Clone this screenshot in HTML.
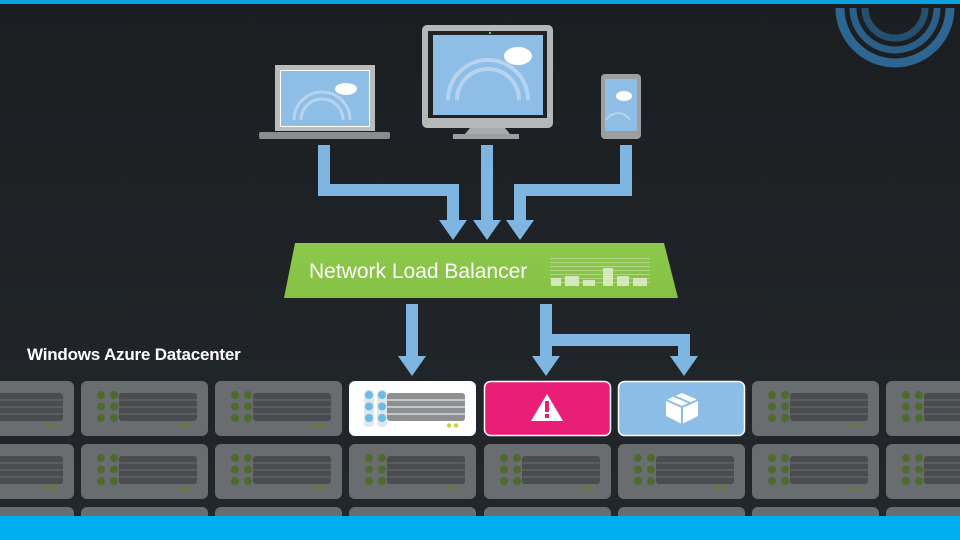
<!DOCTYPE html>
<html><head><meta charset="utf-8"><style>
html,body{margin:0;padding:0;width:960px;height:540px;overflow:hidden;background:#202428}
svg{display:block}
</style></head><body>
<svg width="960" height="540" viewBox="0 0 960 540" xmlns="http://www.w3.org/2000/svg">
<defs>
<linearGradient id="bg" x1="0" y1="0" x2="0" y2="1"><stop offset="0" stop-color="#1b1e21"/><stop offset="1" stop-color="#23282c"/></linearGradient>
<linearGradient id="gr" x1="0" y1="0" x2="0" y2="1"><stop offset="0" stop-color="#8cc84b"/><stop offset="1" stop-color="#86c145"/></linearGradient>
<symbol id="srv" overflow="visible">
<rect x="0" y="0" width="127" height="55" rx="6" fill="#6a6d70"/>
<g fill="#4f6a2e"><circle cx="20" cy="14" r="4"/><circle cx="33" cy="14" r="4"/><circle cx="20" cy="25.5" r="4"/><circle cx="33" cy="25.5" r="4"/><circle cx="20" cy="37" r="4"/><circle cx="33" cy="37" r="4"/></g>
<rect x="38" y="12" width="78" height="28" rx="3" fill="#4a4c50"/>
<g stroke="#6a6d70" stroke-width="1"><line x1="38" y1="19" x2="116" y2="19"/><line x1="38" y1="26" x2="116" y2="26"/><line x1="38" y1="33" x2="116" y2="33"/></g>
<circle cx="100" cy="44.5" r="2.2" fill="#6a7a2e"/><circle cx="107" cy="44.5" r="2.2" fill="#6a7a2e"/>
</symbol>
<symbol id="arr" overflow="visible"><path d="M-14,-20 L14,-20 L0,0 Z" fill="#7fb6e1"/></symbol>
</defs>
<rect width="960" height="540" fill="url(#bg)"/>
<rect width="960" height="4" fill="#0aa3e0"/>
<g fill="none">
<path d="M840,8 A55,55 0 0 0 950,8" stroke-width="9" stroke="#2d6690"/>
<path d="M853,8 A42,42 0 0 0 937,8" stroke-width="7" stroke="#2b5f87"/>
<path d="M865,8 A30,30 0 0 0 925,8" stroke-width="7" stroke="#26506f"/>
</g>
<g>
<use href="#srv" x="-53" y="381"/><use href="#srv" x="81" y="381"/><use href="#srv" x="215" y="381"/><use href="#srv" x="752" y="381"/><use href="#srv" x="886" y="381"/>
<use href="#srv" x="-53" y="444"/><use href="#srv" x="81" y="444"/><use href="#srv" x="215" y="444"/><use href="#srv" x="349" y="444"/><use href="#srv" x="484" y="444"/><use href="#srv" x="618" y="444"/><use href="#srv" x="752" y="444"/><use href="#srv" x="886" y="444"/>
<use href="#srv" x="-53" y="507"/><use href="#srv" x="81" y="507"/><use href="#srv" x="215" y="507"/><use href="#srv" x="349" y="507"/><use href="#srv" x="484" y="507"/><use href="#srv" x="618" y="507"/><use href="#srv" x="752" y="507"/><use href="#srv" x="886" y="507"/>
</g>
<g transform="translate(349,381)">
<rect width="127" height="55" rx="6" fill="#ffffff"/>
<rect x="15" y="9" width="10" height="37" rx="4" fill="#dfe6ec"/><rect x="28" y="9" width="10" height="37" rx="4" fill="#dfe6ec"/>
<g fill="#6cbbe8"><circle cx="20" cy="14" r="4"/><circle cx="33" cy="14" r="4"/><circle cx="20" cy="25.5" r="4"/><circle cx="33" cy="25.5" r="4"/><circle cx="20" cy="37" r="4"/><circle cx="33" cy="37" r="4"/></g>
<rect x="38" y="12" width="78" height="28" rx="3" fill="#8e8f92"/>
<g stroke="#fff"><line x1="38" y1="19" x2="116" y2="19"/><line x1="38" y1="26" x2="116" y2="26"/><line x1="38" y1="33" x2="116" y2="33"/></g>
<circle cx="100" cy="44.5" r="2.2" fill="#c8d43a"/><circle cx="107" cy="44.5" r="2.2" fill="#c8d43a"/>
</g>
<g transform="translate(484,381)">
<rect x="0.5" y="0.5" width="126" height="54" rx="6" fill="#e91e76" stroke="#fff" stroke-width="1.5"/>
<path d="M63,13 L79,40 L47,40 Z" fill="#fff"/>
<rect x="61" y="20" width="4" height="11" fill="#e91e76"/><rect x="61" y="33" width="4" height="4" fill="#e91e76"/>
</g>
<g transform="translate(618,381)">
<rect x="0.5" y="0.5" width="126" height="54" rx="6" fill="#8bbde6" stroke="#fff" stroke-width="1.5"/>
<path d="M64,12 L80,19 L80,35 L64,43 L48,35 L48,19 Z" fill="#fff"/>
<path d="M48,19 L64,26 L80,19 M64,26 L64,43" stroke="#8bbde6" stroke-width="2" fill="none"/>
<path d="M56,15 L72,22" stroke="#8bbde6" stroke-width="2"/>
</g>
<g fill="none" stroke="#7fb6e1" stroke-width="12">
<path d="M324,145 V190 H453 V222"/>
<path d="M487,145 V222"/>
<path d="M626,145 V190 H520 V222"/>
<path d="M412,304 V358"/>
<path d="M546,304 V358"/>
<path d="M546,340 H684 V358"/>
</g>
<use href="#arr" x="453" y="240"/><use href="#arr" x="487" y="240"/><use href="#arr" x="520" y="240"/>
<use href="#arr" x="412" y="376"/><use href="#arr" x="546" y="376"/><use href="#arr" x="684" y="376"/>
<path d="M295,243 L664,243 L678,298 L284,298 Z" fill="url(#gr)"/>
<text x="309" y="278" font-family="Liberation Sans, sans-serif" font-size="21" fill="#fff" letter-spacing="0">Network Load Balancer</text>
<g fill="#c9e6a6" opacity="0.6">
<rect x="550" y="258" width="100" height="1"/><rect x="550" y="262" width="100" height="1"/><rect x="550" y="266" width="100" height="1"/><rect x="550" y="270" width="100" height="1"/><rect x="550" y="274" width="100" height="1"/><rect x="550" y="278" width="100" height="1"/><rect x="550" y="282" width="100" height="1"/>
</g>
<g fill="#dff0cb" opacity="0.85"><rect x="551" y="278" width="10" height="8"/><rect x="565" y="276" width="14" height="10"/><rect x="583" y="280" width="12" height="6"/><rect x="603" y="268" width="10" height="18"/><rect x="617" y="276" width="12" height="10"/><rect x="633" y="278" width="14" height="8"/></g>
<text x="27" y="360" font-family="Liberation Sans, sans-serif" font-weight="bold" font-size="17" fill="#fff" letter-spacing="-0.2">Windows Azure Datacenter</text>
<g>
<rect x="275" y="65" width="100" height="66" fill="#b9bbbd"/>
<rect x="280" y="70" width="90" height="57" fill="#fff"/>
<rect x="281" y="71" width="88" height="55" fill="#8ebde6"/>
<rect x="259" y="132" width="131" height="7" rx="2" fill="#8a8c8e"/>
<g fill="none" stroke="#b6d4ef" stroke-width="3"><path d="M294,120 A28,28 0 0 1 350,120"/><path d="M301,120 A21,21 0 0 1 343,120"/></g>
<ellipse cx="346" cy="89" rx="11" ry="6" fill="#fff"/>
</g>
<g>
<rect x="422" y="25" width="131" height="103" rx="5" fill="#b5b7b9"/>
<rect x="428" y="31" width="119" height="87" fill="#222"/>
<rect x="433" y="35" width="110" height="80" fill="#8ebde6"/>
<circle cx="490" cy="33" r="1.2" fill="#6c6"/>
<path d="M470,128 L505,128 L510,134 L465,134 Z" fill="#a9abad"/>
<rect x="453" y="134" width="66" height="5" fill="#9c9ea0"/>
<g fill="none" stroke="#b6d4ef" stroke-width="4"><path d="M448,100 A40,40 0 0 1 528,100"/><path d="M457,100 A31,31 0 0 1 519,100"/></g>
<ellipse cx="518" cy="56" rx="14" ry="9" fill="#fff"/>
</g>
<g>
<rect x="601" y="74" width="40" height="65" rx="4" fill="#9c9ea0"/>
<rect x="605" y="79" width="32" height="52" fill="#8ebde6"/>
<ellipse cx="624" cy="96" rx="8" ry="5" fill="#fff"/>
<g fill="none" stroke="#b6d4ef" stroke-width="2"><path d="M606,120 A14,14 0 0 1 630,120"/></g>
</g>
<rect y="516" width="960" height="24" fill="#00adef"/>
</svg>
</body></html>
